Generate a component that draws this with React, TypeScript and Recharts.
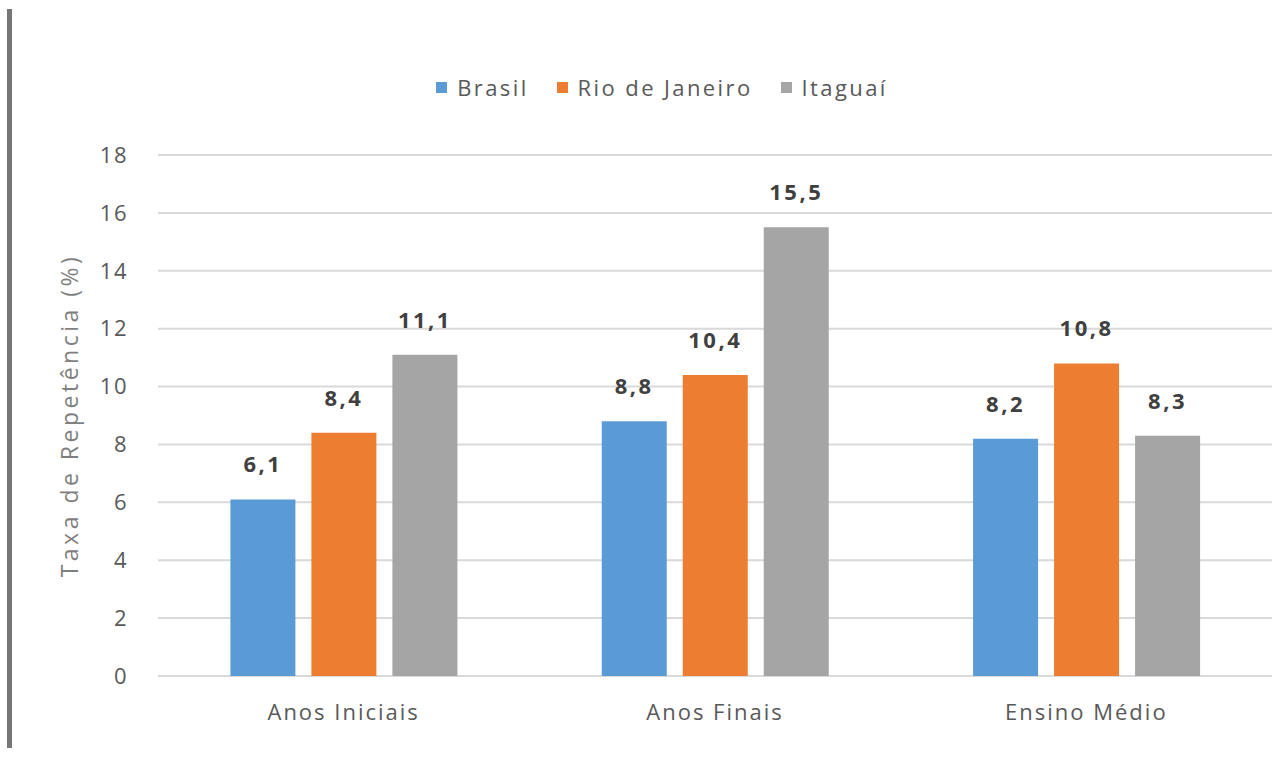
import { BarChart, Bar, XAxis, YAxis, CartesianGrid, Legend, LabelList } from "recharts";

const categories = ["Anos Iniciais", "Anos Finais", "Ensino Médio"];
const brasil = [6.1, 8.8, 8.2];
const rioDeJaneiro = [8.4, 10.4, 10.8];
const itaguai = [11.1, 15.5, 8.3];
const yTicks = [0, 2, 4, 6, 8, 10, 12, 14, 16, 18];

const data = categories.map((name, i) => ({
  name,
  brasil: brasil[i],
  rio: rioDeJaneiro[i],
  itaguai: itaguai[i],
}));

const SERIES = [
  { key: "brasil", label: "Brasil", color: "#5B9BD5" },
  { key: "rio", label: "Rio de Janeiro", color: "#ED7D31" },
  { key: "itaguai", label: "Itaguaí", color: "#A5A5A5" },
];

const FONT = '"Open Sans", sans-serif';
const fmt = (v: any) => String(v).replace(".", ",");

function LegendContent() {
  return (
    <div
      style={{
        display: "flex",
        justifyContent: "center",
        fontFamily: FONT,
        fontSize: 22,
        letterSpacing: 2.4,
        color: "#595959",
        height: 30,
        alignItems: "center",
      }}
    >
      {SERIES.map((s) => (
        <div key={s.key} style={{ display: "flex", alignItems: "center", margin: "0 14px" }}>
          <span style={{ width: 11, height: 11, background: s.color, marginRight: 10, display: "inline-block" }} />
          {s.label}
        </div>
      ))}
    </div>
  );
}

export default function App() {
  return (
    <div style={{ position: "absolute", left: 0, top: 0, width: 1287, height: 772, background: "#fff" }}>
      <div style={{ position: "absolute", left: 7, top: 9, width: 5, height: 739, background: "#767676" }} />
      <BarChart
        width={1287}
        height={772}
        data={data}
        margin={{ top: 125, right: 15, bottom: 66, left: 0 }}
        barGap={16}
        barCategoryGap="19.5%"
        style={{ fontFamily: FONT }}
      >
        <CartesianGrid vertical={false} stroke="#D9D9D9" strokeWidth={2} />
        <XAxis
          dataKey="name"
          axisLine={false}
          tickLine={false}
          tickSize={0}
          tickMargin={28}
          tick={{ fontSize: 22, fill: "#595959", letterSpacing: 2 }}
        />
        <YAxis
          width={158}
          domain={[0, 18]}
          ticks={yTicks}
          axisLine={false}
          tickLine={false}
          tickSize={0}
          tickMargin={30}
          tick={{ fontSize: 22, fill: "#595959", letterSpacing: 1.5 }}
          label={{
            value: "Taxa de Repetência (%)",
            angle: -90,
            position: "center",
            dx: -9,
            style: { fontSize: 23, fill: "#7F7F7F", textAnchor: "middle", letterSpacing: 3.5 },
          }}
        />
        <Legend
          verticalAlign="top"
          content={<LegendContent />}
          wrapperStyle={{ position: "absolute", top: 72, left: 0, width: 1324, height: 30 }}
        />
        {SERIES.map((s) => (
          <Bar key={s.key} dataKey={s.key} name={s.label} fill={s.color} isAnimationActive={false}>
            <LabelList
              dataKey={s.key}
              position="top"
              offset={27}
              formatter={fmt}
              style={{ fontSize: 22, fontWeight: 700, fill: "#404040", letterSpacing: 2.5 }}
            />
          </Bar>
        ))}
      </BarChart>
    </div>
  );
}
